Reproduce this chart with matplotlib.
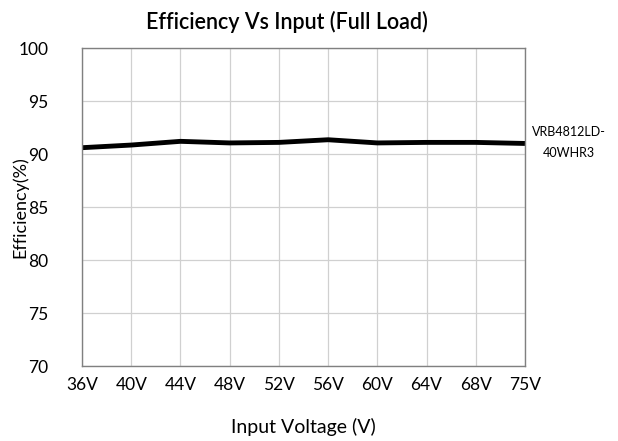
import matplotlib
matplotlib.use("Agg")
import matplotlib.pyplot as plt

plt.rcParams['font.family'] = ['Lato', 'DejaVu Sans']

# data
voltages = ['36V', '40V', '44V', '48V', '52V', '56V', '60V', '64V', '68V', '75V']
efficiency = [90.6, 90.85, 91.2, 91.05, 91.1, 91.35, 91.05, 91.1, 91.1, 91.0]
series_name = 'VRB4812LD-\n40WHR3'

fig = plt.figure(figsize=(6.18, 4.41), dpi=100)
ax = fig.add_axes([0.1327, 0.170, 0.7168, 0.721])

x = range(len(voltages))
ax.plot(x, efficiency, color='black', linewidth=3.5, solid_capstyle='butt')

ax.set_xlim(0, len(voltages) - 1)
ax.set_ylim(70, 100)
ax.set_yticks(range(70, 101, 5))
ax.set_xticks(list(x))
ax.set_xticklabels(voltages)
ax.tick_params(axis='both', length=0, labelsize=12.5)
ax.tick_params(axis='x', pad=8)
ax.tick_params(axis='y', pad=24)

ax.grid(True, color='#d0d0d0', linewidth=0.9)
ax.set_axisbelow(True)
for side in ['top', 'right', 'left', 'bottom']:
    ax.spines[side].set_color('#808080')
    ax.spines[side].set_linewidth(1.0)

fig.text(0.465, 0.95, 'Efficiency Vs Input (Full Load)', ha='center', va='center',
         fontsize=15.5, fontweight='semibold')
ax.set_xlabel('Input Voltage (V)', fontsize=14, labelpad=18)
fig.text(0.033, 0.53, 'Efficiency(%)', rotation=90, ha='center', va='center',
         fontsize=13)

fig.text(0.92, 0.678, series_name, ha='center', va='center', fontsize=9,
         linespacing=1.9)

fig.savefig('out.png', dpi=100)
